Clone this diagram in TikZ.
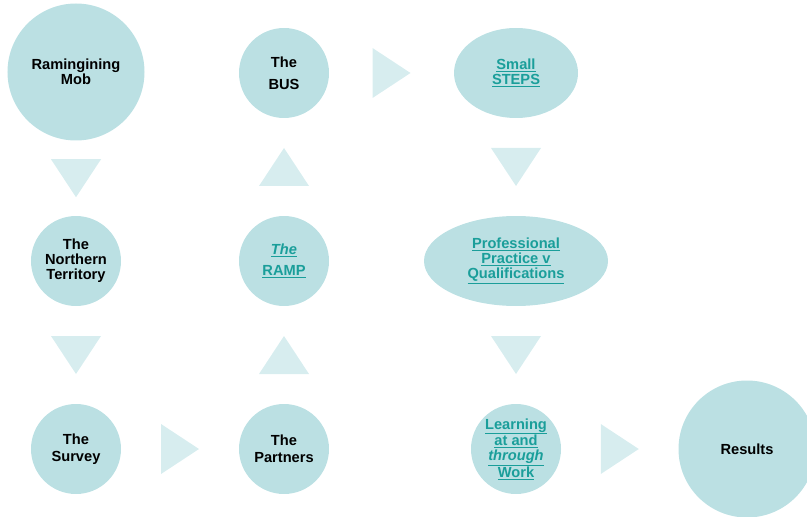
\documentclass[tikz,border=0pt]{standalone}
\usepackage{fontspec}
\setmainfont{Liberation Sans}
\usetikzlibrary{positioning}
\usetikzlibrary{shapes.geometric}
\usetikzlibrary{calc}
\definecolor{acqua}{HTML}{BBE0E3}
\definecolor{acquachiara}{HTML}{D7EDEF}
\definecolor{verdelink}{HTML}{1A9E9A}
\newcommand{\lnk}[1]{\textcolor{verdelink}{\underline{#1}}}

\begin{document}
\begin{tikzpicture}[x=1bp,y=1bp,on grid,align=center,
font=\fontsize{14.7}{15}\selectfont\bfseries,
bolla/.style={circle,fill=acqua,minimum size=90bp,inner sep=0pt},
grande/.style={minimum size=137bp},
ovale/.style={ellipse,fill=acqua,minimum height=90bp,inner sep=0pt},
freccia/.pic={\fill[acquachiara] (-25,19) -- (25,19) -- (0,-19) -- cycle;}
]
\useasboundingbox (0,0) rectangle (807,-517);
%--
\node[bolla,grande](mob) at (76,-72){Ramingining\\Mob};
\node[bolla,below=189bp of mob](nt){The\\Northern\\Territory};
\pic at ($(mob.south)!.5!(nt.north)$) {freccia};
%--
\node[bolla,below=188bp of nt](survey){The\\[2bp]Survey};
\pic at ($(nt.south)!.5!(survey.north)$) {freccia};
%--
\node[bolla,right=208bp of survey](partners){The\\[2bp]Partners};
\pic[rotate=90] at ($(survey.east)!.5!(partners.west)$) {freccia};
%--
\node[bolla,above=188bp of partners](ramp){\lnk{\itshape The}\\[6bp]\lnk{RAMP}};
\pic[rotate=180] at ($(partners.north)!.5!(ramp.south)$) {freccia};
%--
\node[bolla,above=188bp of ramp](bus){The\\[7bp]BUS};
\pic[rotate=180] at ($(ramp.north)!.5!(bus.south)$) {freccia};
%/////////////////////////////////////////////////////////
\node[ovale,minimum width=124bp,right=232bp of bus](steps){\lnk{Small}\\\lnk{STEPS}};
\pic[rotate=90] at ($(bus.east)!.5!(steps.west)$) {freccia};
%--
\node[ovale,minimum width=184bp,below=188bp of steps](prof){\lnk{Professional}\\\lnk{Practice v}\\\lnk{Qualifications}};
\pic at ($(steps.south)!.5!(prof.north)$) {freccia};
%--
\node[bolla,below=188bp of prof](work){\lnk{Learning}\\\lnk{at and}\\\lnk{\itshape through}\\\lnk{Work}};
\pic at ($(prof.south)!.5!(work.north)$) {freccia};
%--
\node[bolla,grande,right=231bp of work](results){Results};
\pic[rotate=90] at ($(work.east)!.5!(results.west)$) {freccia};
\end{tikzpicture}
\end{document}
